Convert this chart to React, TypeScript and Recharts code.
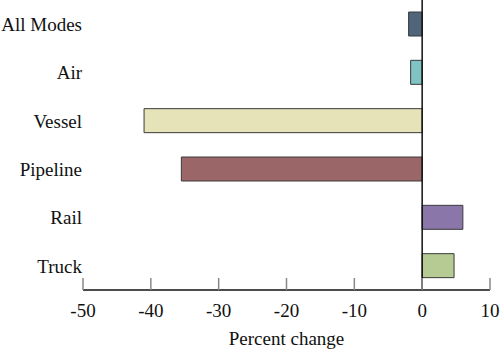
import { Bar, BarChart, Cell, Label, ReferenceLine, XAxis, YAxis } from 'recharts';

const modes = ['All Modes', 'Air', 'Vessel', 'Pipeline', 'Rail', 'Truck'];
const pctChange = [-2.0, -1.7, -41.0, -35.5, 6.0, 4.7];
const xTicks = [-50, -40, -30, -20, -10, 0, 10];

const barColors = ['#50657a', '#7fc3c2', '#e6e3b8', '#9a6667', '#8a76a8', '#b5cb93'];
const font = '"Liberation Serif", "Times New Roman", serif';
const ink = '#111';

const data = modes.map((mode, i) => ({ mode, value: pctChange[i] }));

// ticks point up into the plot, label sits below the axis
function XTick({ x, y, payload }: { x: number; y: number; payload: { value: number } }) {
  return (
    <g>
      <line x1={x} x2={x} y1={y - 12} y2={y} stroke="#888" strokeWidth={1.5} />
      <text x={x} y={y + 27} textAnchor="middle" fontSize={19} fontFamily={font} fill={ink}>
        {payload.value}
      </text>
    </g>
  );
}

export default function App() {
  return (
    <div style={{ position: 'absolute', left: 0, top: 0, background: '#fff' }}>
      <BarChart
        width={500}
        height={352}
        data={data}
        layout="vertical"
        margin={{ top: 0, right: 10, bottom: 0, left: 0 }}
      >
        <XAxis
          type="number"
          domain={[-50, 10]}
          ticks={xTicks}
          interval={0}
          height={62}
          tickSize={0}
          tickMargin={0}
          tickLine={false}
          axisLine={{ stroke: ink, strokeWidth: 1.5 }}
          tick={XTick}
        >
          <Label
            value="Percent change"
            position="insideBottom"
            offset={7}
            fontSize={19}
            fontFamily={font}
            fill={ink}
          />
        </XAxis>
        <YAxis
          type="category"
          dataKey="mode"
          width={83}
          tickSize={0}
          tickMargin={1}
          tickLine={false}
          axisLine={false}
          tick={{ fontSize: 19, fontFamily: font, fill: ink }}
        />
        <ReferenceLine x={0} stroke={ink} strokeWidth={1.5} />
        <Bar dataKey="value" barSize={24} stroke="#3a3a3a" strokeWidth={1} isAnimationActive={false}>
          {data.map((d, i) => (
            <Cell key={d.mode} fill={barColors[i]} />
          ))}
        </Bar>
      </BarChart>
    </div>
  );
}
